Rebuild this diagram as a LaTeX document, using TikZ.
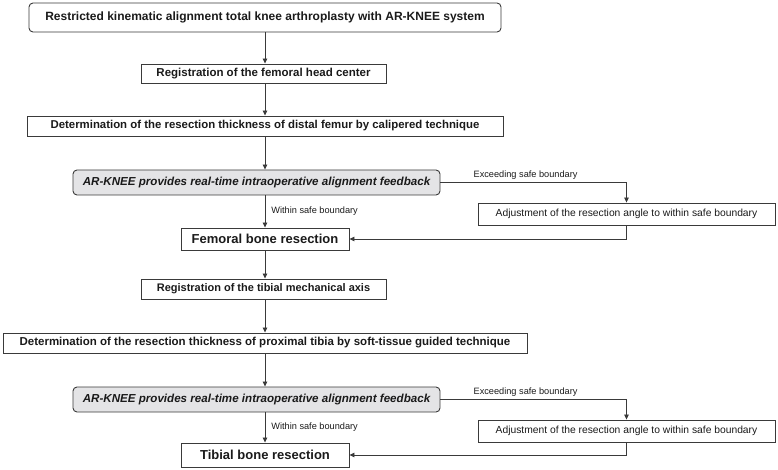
\documentclass[tikz,border=0pt]{standalone}
\usepackage{fontspec}
\setmainfont{Liberation Sans}
\usetikzlibrary{arrows.meta}
\definecolor{edge}{HTML}{3A3A3A}
\definecolor{txt}{HTML}{1A1A1A}
\definecolor{grayfill}{HTML}{E4E4E6}
\tikzset{
  box/.style={draw=edge, line width=0.9pt, inner sep=0pt, text=txt, align=center},
  boldbox/.style={box, font=\fontsize{11}{13}\selectfont\bfseries},
  feedback/.style={box, fill=grayfill, rounded corners=4pt, font=\fontsize{11.6}{13}\selectfont\bfseries\itshape},
  adjbox/.style={box, font=\fontsize{10.3}{12}\selectfont},
  conn/.style={draw=edge, line width=0.8pt, -{Triangle[length=5pt,width=4.5pt]}},
  lbl/.style={text=txt, font=\fontsize{9.2}{11}\selectfont, inner sep=0pt}
}
\begin{document}
\begin{tikzpicture}[x=1pt,y=-1pt]
\useasboundingbox (0,0) rectangle (778,470);
\node[boldbox, rounded corners=4pt, font=\fontsize{12}{14}\selectfont\bfseries, minimum width=472, minimum height=29] (b1) at (265,17.5)
  {Restricted kinematic alignment total knee arthroplasty with AR-KNEE system};
\node[boldbox, font=\fontsize{11.5}{13}\selectfont\bfseries, minimum width=245, minimum height=19] (b2) at (263.5,73.5)
  {Registration of the femoral head center};
\node[boldbox, font=\fontsize{11.4}{13}\selectfont\bfseries, minimum width=476, minimum height=20] (b3) at (265,126)
  {Determination of the resection thickness of distal femur by calipered technique};
\node[feedback, minimum width=367, minimum height=25] (b4) at (256.5,182.5)
  {AR-KNEE provides real-time intraoperative alignment feedback};
\node[adjbox, minimum width=297, minimum height=22] (a1) at (626.5,214)
  {Adjustment of the resection angle to within safe boundary};
\node[boldbox, font=\fontsize{13}{15}\selectfont\bfseries, minimum width=168, minimum height=22] (f) at (265,239)
  {Femoral bone resection};
\node[boldbox, font=\fontsize{11}{13}\selectfont\bfseries, minimum width=245, minimum height=20] (b5) at (263.5,289)
  {Registration of the tibial mechanical axis};
\node[boldbox, font=\fontsize{11.5}{13}\selectfont\bfseries, minimum width=524, minimum height=20] (b6) at (265,343)
  {Determination of the resection thickness of proximal tibia by soft-tissue guided technique};
\node[feedback, minimum width=367, minimum height=25] (b7) at (256.5,399.5)
  {AR-KNEE provides real-time intraoperative alignment feedback};
\node[adjbox, minimum width=297, minimum height=22] (a2) at (626.5,431)
  {Adjustment of the resection angle to within safe boundary};
\node[boldbox, font=\fontsize{13}{15}\selectfont\bfseries, minimum width=168, minimum height=24] (t) at (265,455)
  {Tibial bone resection};

\coordinate (x0) at (265,0);
\draw[conn] (b1.south -| x0) -- (b2.north -| x0);
\draw[conn] (b2.south -| x0) -- (b3.north -| x0);
\draw[conn] (b3.south -| x0) -- (b4.north -| x0);
\draw[conn] (b4.south -| x0) -- node[lbl, anchor=west, xshift=6pt] (l1) {Within safe boundary} (f.north);
\draw[conn] (b4.east) -| (a1.north);
\node[lbl, anchor=south west] (l2) at ([xshift=33pt, yshift=3pt]b4.east) {Exceeding safe boundary};
\draw[conn] (a1.south) |- (f.east);
\draw[conn] (f.south) -- (b5.north -| x0);
\draw[conn] (b5.south -| x0) -- (b6.north -| x0);
\draw[conn] (b6.south -| x0) -- (b7.north -| x0);
\draw[conn] (b7.south -| x0) -- node[lbl, anchor=west, xshift=6pt] (l3) {Within safe boundary} (t.north);
\draw[conn] (b7.east) -| (a2.north);
\node[lbl, anchor=south west] (l4) at ([xshift=33pt, yshift=3pt]b7.east) {Exceeding safe boundary};
\draw[conn] (a2.south) |- (t.east);
\end{tikzpicture}
\end{document}
